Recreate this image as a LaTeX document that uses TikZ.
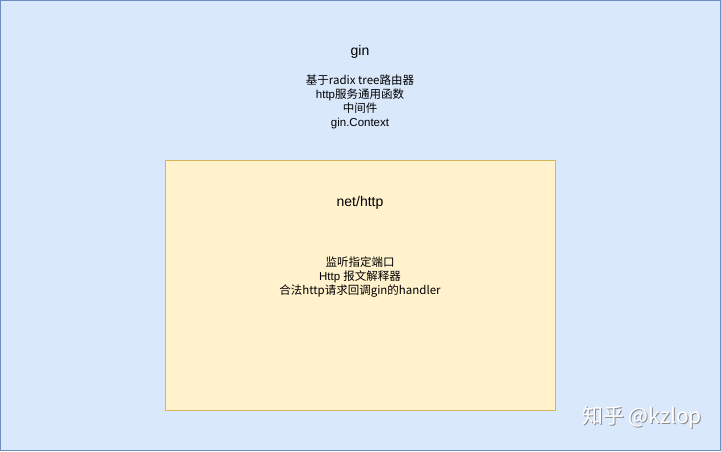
\documentclass[tikz,border=0pt]{standalone}
\usepackage{fontspec}
\setmainfont{Liberation Sans}
\newfontfamily\cjk{Noto Sans CJK SC}
\definecolor{bluefill}{HTML}{DAE8FC}
\definecolor{blueline}{HTML}{6C8EBF}
\definecolor{yellowfill}{HTML}{FFF2CC}
\definecolor{yellowline}{HTML}{D6B656}
\begin{document}
\begin{tikzpicture}[x=1pt,y=-1pt,
  lbl/.style={font=\fontsize{11.5}{14}\selectfont, align=center, inner sep=0pt, text=black},
  ttl/.style={font=\fontsize{14}{16}\selectfont, inner sep=0pt, text=black},
  wm/.style={font=\cjk\fontsize{21}{24}\selectfont, inner sep=0pt, anchor=west}]
\useasboundingbox (0,0) rectangle (721,451);
\draw[fill=bluefill, draw=blueline, line width=1pt] (0.5,0.5) rectangle (720.5,450.5);
\draw[fill=yellowfill, draw=yellowline, line width=1pt] (165.5,160.5) rectangle (555.5,410.5);
\node[ttl] (gintitle) at (360,52) {gin};
\node[lbl, anchor=north] (ginbody) at (360,75) {\cjk{基于}radix tree\cjk{路由器}\\http\cjk{服务通用函数}\\\cjk{中间件}\\gin.Context};
\node[ttl] (nettitle) at (360,203) {net/http};
\node[lbl, anchor=north] (netbody) at (360,257) {\cjk{监听指定端口}\\Http \cjk{报文解释器}\\\cjk{合法}http\cjk{请求回调}gin\cjk{的}handler};
\node[wm, text=black!45] (wmshadow) at (583,418.5) {知乎 @kzlop};
\node[wm, text=white] (wmtext) at (582,417.5) {知乎 @kzlop};
\end{tikzpicture}
\end{document}
